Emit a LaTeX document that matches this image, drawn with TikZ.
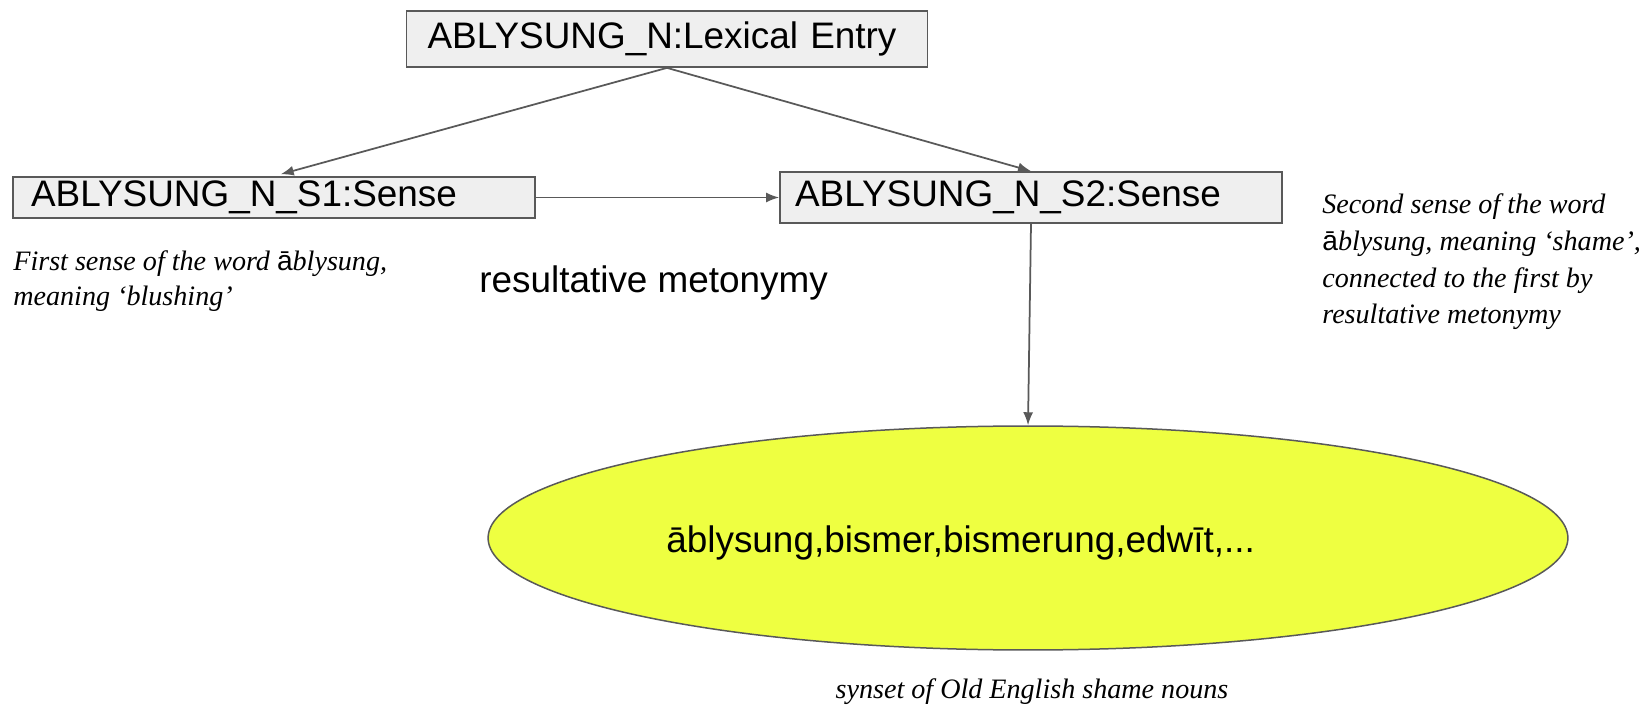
\documentclass[tikz,border=0pt]{standalone}
\usepackage{fontspec}
\setmainfont{Liberation Serif}
\newfontfamily\arialfont{Liberation Sans}
\usepackage{tikz}
\usetikzlibrary{arrows.meta}
\usetikzlibrary{shapes.geometric}

\definecolor{boxfill}{HTML}{EFEFEF}
\definecolor{edgegray}{HTML}{595959}
\definecolor{synyellow}{HTML}{EEFF41}

\tikzset{
	sensebox/.style={draw=edgegray,fill=boxfill,line width=0.035cm,inner ysep=0pt,align=left,
		font=\arialfont\fontsize{21pt}{25pt}\selectfont},
	note/.style={inner sep=0pt,align=left,font=\itshape\fontsize{16pt}{20pt}\selectfont},
	plain/.style={inner sep=0pt,font=\arialfont\fontsize{21pt}{25pt}\selectfont}
}

\begin{document}
\begin{tikzpicture}[x=0.02cm,y=-0.02cm,>={Latex[length=0.26cm,width=0.2cm]}]
			\useasboundingbox (0,0) rectangle (1646,712);
			
			% entry and senses
			
			\node[sensebox,text width=9.58cm,inner xsep=0.42cm,minimum height=1.12cm] (LE) at (667,39) {ABLYSUNG\_N:Lexical Entry};
			\node[sensebox,text width=9.72cm,inner xsep=0.36cm,minimum height=0.82cm] (S1) at (274,197.5) {ABLYSUNG\_N\_S1:Sense};
			\node[sensebox,text width=9.44cm,inner xsep=0.30cm,minimum height=1.02cm] (S2) at (1031,197.5) {ABLYSUNG\_N\_S2:Sense};
			
			\draw[->,edgegray,line width=0.035cm,shorten >=0.14cm] (LE.south) -- (S1.north);
			\draw[->,edgegray,line width=0.035cm] (LE.south) -- (S2.north);
			\draw[->,edgegray,line width=0.035cm] (S1.east) -- (S2.west);
			
			\node[plain,anchor=base west] (rel) at (479,293) {resultative metonymy};
			
			% notes
			
			\node[note,anchor=base west] (n1) at (13,306)
				{First sense of the word {\upshape\arialfont ā}blysung,\\meaning `blushing'};
			\node[note,anchor=base west,font=\itshape\fontsize{16pt}{21pt}\selectfont] (n2) at (1322,324)
				{Second sense of the word\\{\upshape\arialfont ā}blysung, meaning `shame',\\connected to the first by\\resultative metonymy};
			
			% synset
			
			\node[ellipse,draw=edgegray,fill=synyellow,line width=0.03cm,minimum width=21.6cm,minimum height=4.48cm] (syn) at (1028,538) {};
			\node[plain,anchor=base west] (words) at (666,552) {āblysung,bismer,bismerung,edwīt,...};
			\draw[->,edgegray,line width=0.035cm] (S2.south) -- (syn.north);
			
			\node[note,anchor=base] (cap) at (1032,698) {synset of Old English shame nouns};
		\end{tikzpicture}
\end{document}
